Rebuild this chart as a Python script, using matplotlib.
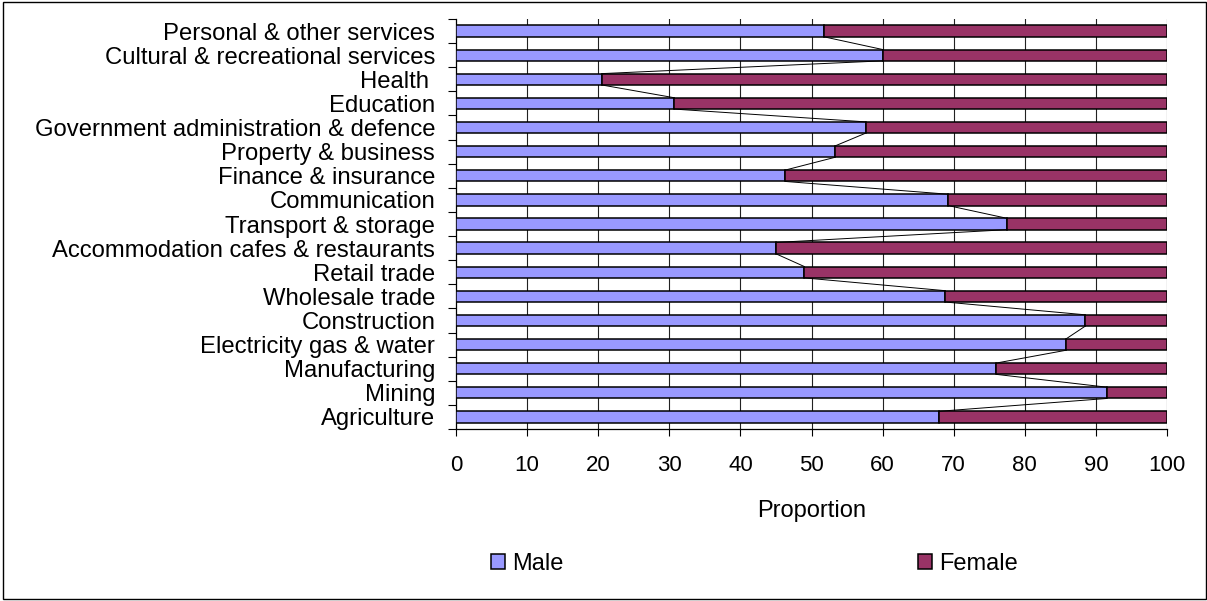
import matplotlib
matplotlib.use("Agg")
import matplotlib.pyplot as plt
from matplotlib.patches import Rectangle, Patch

plt.rcParams['font.family'] = ['Liberation Sans', 'DejaVu Sans']

# Industries, listed bottom to top
industries = [
    "Agriculture", "Mining", "Manufacturing", "Electricity gas & water",
    "Construction", "Wholesale trade", "Retail trade",
    "Accommodation cafes & restaurants", "Transport & storage",
    "Communication", "Finance & insurance", "Property & business",
    "Government administration & defence", "Education", "Health ",
    "Cultural & recreational services", "Personal & other services",
]
male = [68.0, 91.5, 76.0, 85.8, 88.5, 68.8, 49.0, 45.0, 77.5,
        69.2, 46.3, 53.3, 57.6, 30.7, 20.5, 60.0, 51.7]
female = [100 - m for m in male]
xticks = list(range(0, 101, 10))

male_color = "#9999FF"
female_color = "#993366"

W, H = 1207, 601
fig = plt.figure(figsize=(W / 100, H / 100), dpi=100)
ax = fig.add_axes([456 / W, 1 - 429 / H, (1167 - 456) / W, (429 - 19) / H])

pos = list(range(len(industries)))
bh = 0.47

# vertical gridlines behind the bars
for t in xticks[1:]:
    ax.axvline(t, color="#222222", linewidth=0.8, zorder=1)

ax.barh(pos, male, height=bh, color=male_color, edgecolor="black",
        linewidth=1.1, zorder=3, label="Male")
ax.barh(pos, female, left=male, height=bh, color=female_color,
        edgecolor="black", linewidth=1.1, zorder=3, label="Female")

# series lines joining the ends of the male segments
for i in range(len(pos) - 1):
    ax.plot([male[i], male[i + 1]], [pos[i] + bh / 2, pos[i + 1] - bh / 2],
            color="black", linewidth=0.7, zorder=4)

ax.set_xlim(0, 100)
ax.set_ylim(-0.5, len(pos) - 0.5)
ax.set_xticks(xticks)
ax.set_xticklabels([str(t) for t in xticks], fontsize=16)

# category labels centred on bars, tick marks between categories
ax.set_yticks(pos)
ax.set_yticklabels(industries, fontsize=17.2)
ax.tick_params(axis="y", which="major", length=0, pad=15)
ax.set_yticks([p - 0.5 for p in pos] + [len(pos) - 0.5], minor=True)
ax.tick_params(axis="y", which="minor", length=6, width=0.8, direction="out")
ax.tick_params(axis="x", length=5, width=0.8, direction="out", pad=14)

for s in ("top", "right"):
    ax.spines[s].set_visible(False)
ax.spines["left"].set_linewidth(0.9)
ax.spines["bottom"].set_linewidth(0.9)

ax.set_xlabel("Proportion", fontsize=17, labelpad=17)

handles = [Patch(facecolor=male_color, edgecolor="black", linewidth=1.1, label="Male"),
           Patch(facecolor=female_color, edgecolor="black", linewidth=1.1, label="Female")]
fig.legend(handles=handles, loc="center left",
           bbox_to_anchor=(491 / W, 1 - 564 / H), ncol=2, frameon=False,
           fontsize=17, handlelength=0.6, handleheight=0.6,
           handletextpad=0.3, columnspacing=15.0, borderpad=0,
           borderaxespad=0)

fig.patches.append(Rectangle((3 / W, 2 / H), 1203 / W, 597 / H,
                             transform=fig.transFigure, fill=False,
                             edgecolor="black", linewidth=1.0))

fig.savefig("out.png", dpi=100)
